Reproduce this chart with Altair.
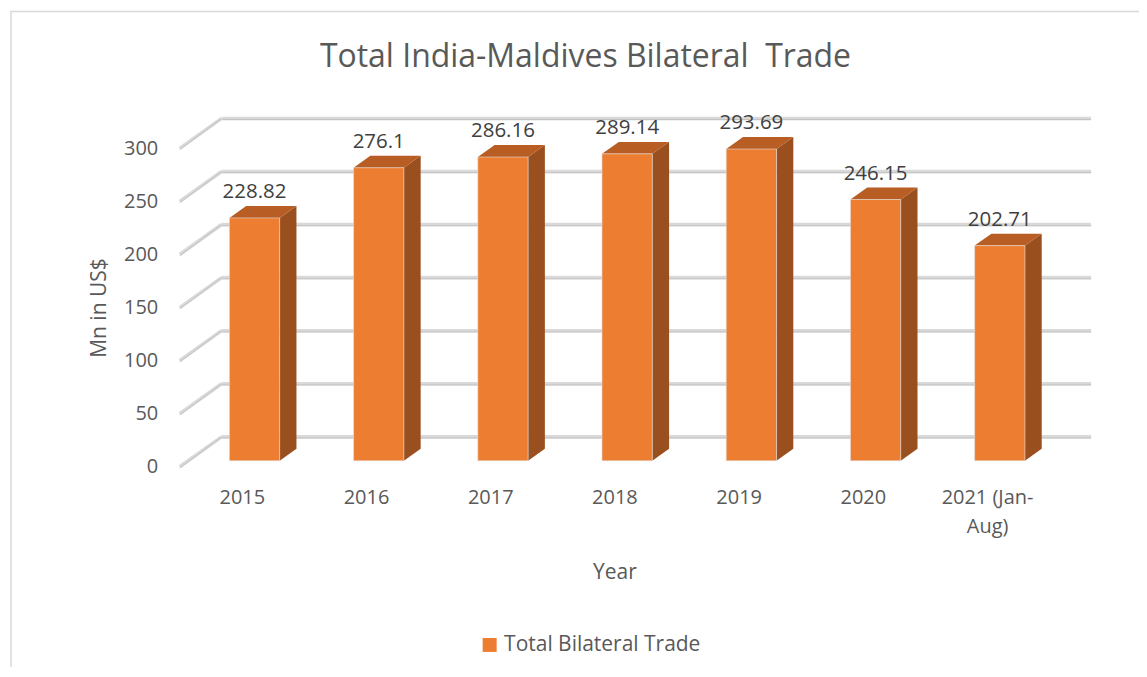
import json
import altair as alt
import pandas as pd

# ---- data ----
years = ["2015", "2016", "2017", "2018", "2019", "2020", "2021 (Jan-Aug)"]
trade = [228.82, 276.1, 286.16, 289.14, 293.69, 246.15, 202.71]
y_ticks = [0, 50, 100, 150, 200, 250, 300]
series_name = "Total Bilateral Trade"
chart_title = "Total India-Maldives Bilateral \u00a0Trade"
x_title = "Year"
y_title = "Mn in US$"

# ---- geometry / style constants ----
W, H = 871, 319
N = len(years)
YMAX = 300
DEPTH_X = 42 / (W / N)        # depth of the 3D floor in category units
DEPTH_Y = 30 / (H / YMAX)     # depth of the 3D floor in value units
BAR_FRONT, BAR_BACK = 0.2, 0.6
BAR_START, BAR_W = 0.40, 0.405
FONT = "Open Sans"
C_FRONT, C_SIDE, C_TOP = "#ED7D31", "#9A4F1E", "#B85D23"

xs = alt.Scale(domain=[0, N], nice=False, zero=False)
ys = alt.Scale(domain=[0, YMAX], nice=False, zero=False)

# label expression for the category axis (wrap the long label)
def split_label(s):
    if "(" in s and "-" in s:
        a, b = s.split("-", 1)
        return [a + "-", b]
    return s
lab_list = [split_label(s) for s in years]
label_expr = json.dumps(lab_list) + "[floor(datum.value)]"

# ---- tables ----
grid_df = pd.DataFrame({
    "x": [DEPTH_X] * len(y_ticks),
    "x2": [N + DEPTH_X] * len(y_ticks),
    "y": [v + DEPTH_Y for v in y_ticks],
    "v": y_ticks,
    "x0": [0] * len(y_ticks),
})

front_rows, side_rows, top_rows, lab_rows = [], [], [], []
bdx = (BAR_BACK - BAR_FRONT) * DEPTH_X
f = BAR_FRONT * DEPTH_Y
b = BAR_BACK * DEPTH_Y
for i, (yr, v) in enumerate(zip(years, trade)):
    fl = i + BAR_START
    fr = fl + BAR_W
    front_rows.append({"x": fl, "x2": fr, "y": f, "y2": v + f, "series": series_name})
    side_rows += [
        {"bar": i, "x": fr, "lo": f, "hi": v + f},
        {"bar": i, "x": fr + bdx, "lo": b, "hi": v + b},
    ]
    top_rows += [
        {"bar": i, "x": fl, "lo": v + f, "hi": v + f},
        {"bar": i, "x": fl + bdx, "lo": v + f, "hi": v + b},
        {"bar": i, "x": fr, "lo": v + f, "hi": v + b},
        {"bar": i, "x": fr + bdx, "lo": v + b, "hi": v + b},
    ]
    lab_rows.append({"x": fl + BAR_W / 2, "y": v + b, "t": f"{v:g}"})

front_df = pd.DataFrame(front_rows)
side_df = pd.DataFrame(side_rows)
top_df = pd.DataFrame(top_rows)
lab_df = pd.DataFrame(lab_rows)

x_axis = alt.Axis(
    values=[i + 0.5 for i in range(N)], labelExpr=label_expr, grid=False,
    domain=False, ticks=False, labelFont=FONT, labelFontSize=20,
    labelColor="#595959", labelPadding=21, labelLineHeight=29,
    labelOverlap=False, labelFlush=False, title=x_title, titleFont=FONT,
    titleFontSize=21, titleFontWeight="normal", titleColor="#595959",
    titlePadding=25,
)
y_axis = alt.Axis(
    values=y_ticks, grid=False, domain=False, ticks=False, labelFont=FONT,
    labelFontSize=20, labelColor="#595959", labelPadding=22, title=y_title,
    titleFont=FONT, titleFontSize=21, titleFontWeight="normal",
    titleColor="#595959", titlePadding=14,
)

def X(field):
    return alt.X(field, scale=xs, axis=x_axis)

def Y(field):
    return alt.Y(field, scale=ys, axis=y_axis)

frame = alt.Chart(pd.DataFrame({"a": [0]})).mark_rect(
    filled=False, stroke="#d9d9d9", strokeWidth=1.5
).encode(
    x=alt.value(11 - 180), x2=alt.value(1147 - 180 + 30),
    y=alt.value(11 - 148), y2=alt.value(677 - 148 + 30),
)

grid_base = alt.Chart(grid_df).mark_rule(color="#d9d9d9", strokeWidth=3.5).encode(
    x=X("x:Q"), x2="x2:Q", y=Y("y:Q"),
)
grid_edge = alt.Chart(grid_df).mark_rule(color="#c2c2c2", strokeWidth=1, yOffset=1.2).encode(
    x=X("x:Q"), x2="x2:Q", y=Y("y:Q"),
)
diag_base = alt.Chart(grid_df).mark_rule(color="#d9d9d9", strokeWidth=3.5).encode(
    x=X("x0:Q"), x2="x:Q", y=Y("v:Q"), y2="y:Q",
)
diag_edge = alt.Chart(grid_df).mark_rule(color="#c2c2c2", strokeWidth=1, yOffset=1.2).encode(
    x=X("x0:Q"), x2="x:Q", y=Y("v:Q"), y2="y:Q",
)

side = alt.Chart(side_df).mark_area(color=C_SIDE, interpolate="linear").encode(
    x=X("x:Q"), y=Y("lo:Q"), y2="hi:Q", detail="bar:N",
)
top = alt.Chart(top_df).mark_area(color=C_TOP, interpolate="linear").encode(
    x=X("x:Q"), y=Y("lo:Q"), y2="hi:Q", detail="bar:N",
)
front = alt.Chart(front_df).mark_rect(stroke="#e0e0e0", strokeWidth=0.6).encode(
    x=X("x:Q"), x2="x2:Q", y=Y("y:Q"), y2="y2:Q",
    color=alt.Color(
        "series:N", scale=alt.Scale(range=[C_FRONT]),
        legend=alt.Legend(
            title=None, orient="none", legendX=300, legendY=487,
            symbolType="square", symbolSize=196, symbolStrokeWidth=0,
            labelFont=FONT, labelFontSize=21, labelColor="#595959",
            labelOffset=4, labelLimit=400,
        ),
    ),
)
labels = alt.Chart(lab_df).mark_text(
    font=FONT, fontSize=20.5, color="#404040", baseline="bottom", dy=-4
).encode(
    x=X("x:Q"), y=Y("y:Q"), text="t:N",
)

chart = alt.layer(
    frame, grid_base, grid_edge, diag_base, diag_edge, side, top, front, labels
).properties(
    width=W, height=H,
    autosize=alt.AutoSizeParams(type="none"),
    padding={"left": 172, "top": 140, "right": 90, "bottom": 200},
    title=alt.TitleParams(
        chart_title, font=FONT, fontSize=32, fontWeight="normal",
        color="#595959", anchor="middle", frame="group", dx=-29, dy=67,
    ),
).configure_view(stroke=None)

chart.save("out.html", embed_options={"renderer": "svg", "actions": False})
